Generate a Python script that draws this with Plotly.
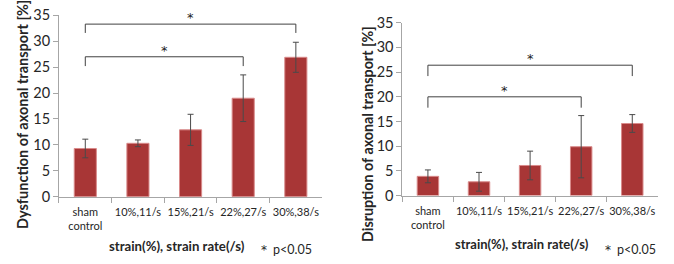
import plotly.graph_objects as go

categories = ["sham<br>control", "10%,11/s", "15%,21/s", "22%,27/s", "30%,38/s"]
dysfunction = [9.3, 10.3, 12.9, 19.0, 26.9]
dysfunction_err = [1.8, 0.65, 3.0, 4.5, 2.9]
disruption = [3.9, 2.8, 6.1, 9.9, 14.6]
disruption_err = [1.3, 1.9, 2.9, 6.3, 1.8]
y_ticks = [0, 5, 10, 15, 20, 25, 30, 35]

# significance brackets: (from index, to index, bar level, leg level)
left_brackets = [(0, 4, 33.3, 31.6), (0, 3, 27.0, 25.2)]
right_brackets = [(0, 4, 26.4, 24.2), (0, 3, 20.0, 17.8)]

FONT = "Lato"
STAR_FONT = "DejaVu Sans"
TXT = "#262626"
BAR = "#a83636"

fig = go.Figure()
fig.add_trace(go.Bar(
    x=categories, y=dysfunction, xaxis="x", yaxis="y",
    marker=dict(color=BAR, line=dict(color="#d98a8a", width=1)),
    width=0.42,
    error_y=dict(type="data", array=dysfunction_err, color="#4a4a4a", thickness=1, width=3),
))
fig.add_trace(go.Bar(
    x=categories, y=disruption, xaxis="x2", yaxis="y2",
    marker=dict(color=BAR, line=dict(color="#d98a8a", width=1)),
    width=0.42,
    error_y=dict(type="data", array=disruption_err, color="#4a4a4a", thickness=1, width=3),
))

def xax(domain, anchor):
    return dict(domain=domain, anchor=anchor, type="category", showline=True,
                linecolor="#a6a6a6", linewidth=1, ticks="outside", tickson="boundaries",
                ticklen=5, tickcolor="#a6a6a6", showgrid=False, zeroline=False,
                tickangle=0, automargin=False, ticklabelstandoff=5,
                tickfont=dict(family=FONT, size=11, color=TXT), range=[-0.5, 4.5])

def yax(domain, anchor):
    return dict(domain=domain, anchor=anchor, range=[0, 35], tickvals=y_ticks,
                showline=True, linecolor="#a6a6a6", linewidth=1, ticks="outside",
                ticklen=5, tickcolor="#a6a6a6", showgrid=False, zeroline=False,
                automargin=False,
                tickfont=dict(family=FONT, size=14.5, color=TXT))

shapes = []
annotations = []
for xr, yr, brs in [("x", "y", left_brackets), ("x2", "y2", right_brackets)]:
    for i0, i1, top, leg in brs:
        shapes.append(dict(type="path", xref=xr, yref=yr,
                           path=f"M {i0},{leg} L {i0},{top} L {i1},{top} L {i1},{leg}",
                           line=dict(color="#404040", width=1)))
        annotations.append(dict(xref=xr, yref=yr, x=(i0 + i1) / 2, y=top, text="*",
                                showarrow=False, yanchor="bottom", yshift=-3,
                                font=dict(family=STAR_FONT, size=13, color="#222222")))

fig.update_layout(
    width=674, height=264, margin=dict(l=0, r=0, t=0, b=0),
    paper_bgcolor="white", plot_bgcolor="white", showlegend=False,
    xaxis=xax([0.0875, 0.478], "y"),
    yaxis=yax([0.255, 0.942], "x"),
    xaxis2=xax([0.597, 0.976], "y2"),
    yaxis2=yax([0.259, 0.914], "x2"),
    shapes=shapes,
)

def ann(x, y, text, size, bold=False, angle=0, family=FONT):
    t = f"<b>{text}</b>" if bold else text
    annotations.append(dict(xref="paper", yref="paper", x=x / 674, y=1 - y / 264, text=t,
                            showarrow=False, textangle=angle, xanchor="center", yanchor="middle",
                            font=dict(family=family, size=size, color=TXT)))

ann(23, 115, "Dysfunction of axonal transport [%]", 14.5, bold=True, angle=-90)
ann(367, 134, "Disruption of axonal transport [%]", 14.3, bold=True, angle=-90)
ann(177, 246, "strain(%), strain rate(/s)", 13.2, bold=True)
ann(522, 244, "strain(%), strain rate(/s)", 13, bold=True)
ann(264, 250, "*", 12, family=STAR_FONT)
ann(292.5, 249, "p<0.05", 12.5)
ann(608, 250, "*", 12, family=STAR_FONT)
ann(636, 249, "p<0.05", 12.5)
fig.update_layout(annotations=annotations)

fig.write_html("out.html")
